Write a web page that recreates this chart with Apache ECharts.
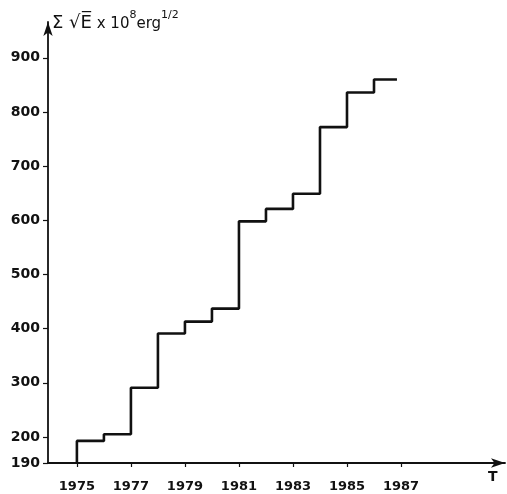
<!DOCTYPE html>
<html><head><meta charset="utf-8">
<script src="https://cdn.jsdelivr.net/npm/echarts@6/dist/echarts.min.js"></script>
<style>html,body{margin:0;padding:0;background:#fff}#c{width:507px;height:494px}</style>
</head><body><div id="c"></div>
<script>
// Data
const years = [1975, 1976, 1977, 1978, 1979, 1980, 1981, 1982, 1983, 1984, 1985, 1986];
const values = [198.5, 205, 291, 391, 413, 437, 598, 621, 649, 772, 836, 860];
const startValue = 190;      // curve starts from the axis origin at 1975
const endYear = 1986.85;     // last step ends just before 1987
const xTickLabels = [1975, 1977, 1979, 1981, 1983, 1985, 1987];
const yTickLabels = [190, 200, 300, 400, 500, 600, 700, 800, 900];

// The original axis is broken between 190 and 200 (that gap is stretched)
const STRETCH = 4.8;
function fwd(v) { return v >= 200 ? v : 200 - (200 - v) * STRETCH; }
function inv(u) { return u >= 200 ? u : 200 - (200 - u) / STRETCH; }

const lineData = [[years[0], fwd(startValue)]];
years.forEach((y, i) => lineData.push([y, fwd(values[i])]));
lineData.push([endYear, fwd(values[values.length - 1])]);

const ink = '#111';
const font = 'DejaVu Sans';

const chart = echarts.init(document.getElementById('c'), null, {renderer: 'canvas'});
chart.setOption({
  backgroundColor: '#fff',
  animation: false,
  grid: {left: 48, right: 2, top: 22, bottom: 31, containLabel: false},
  xAxis: {
    type: 'value', min: 1973.93, max: 1990.85,
    splitLine: {show: false},
    axisLine: {onZero: false, lineStyle: {color: ink, width: 1.8}, symbol: ['none', 'arrow'], symbolSize: [7, 14]},
    axisTick: {show: true, length: 4, lineStyle: {color: ink, width: 1.2}, customValues: xTickLabels},
    axisLabel: {customValues: xTickLabels, margin: 17, color: ink, fontFamily: font, fontWeight: 'bold', fontSize: 13,
      formatter: v => String(Math.round(v))}
  },
  yAxis: {
    type: 'value', min: fwd(190), max: 966,
    splitLine: {show: false},
    axisLine: {onZero: false, lineStyle: {color: ink, width: 1.8}, symbol: ['none', 'arrow'], symbolSize: [7, 14]},
    axisTick: {show: true, length: 5, lineStyle: {color: ink, width: 1.2}, customValues: yTickLabels.map(fwd)},
    axisLabel: {customValues: yTickLabels.map(fwd), margin: 8, color: ink, fontFamily: font, fontWeight: 'bold', fontSize: 14,
      formatter: v => String(Math.round(inv(v)))}
  },
  graphic: [
    {type: 'text', left: 52, top: 10, style: {
      text: '{b|Σ √E̅}{a| x 10}{s|8}{a|erg}{s|1/2}',
      rich: {
        b: {fontFamily: font, fontSize: 18, fill: ink, lineHeight: 22, verticalAlign: 'bottom'},
        a: {fontFamily: font, fontSize: 15, fill: ink, lineHeight: 22, verticalAlign: 'bottom'},
        s: {fontFamily: font, fontSize: 11, fill: ink, lineHeight: 22, verticalAlign: 'top'}
      }
    }},
    {type: 'text', left: 488, top: 470, style: {text: 'T', fontFamily: font, fontSize: 14, fontWeight: 'bold', fill: ink}}
  ],
  series: [{
    type: 'line', step: 'end', data: lineData, showSymbol: false, symbol: 'none',
    lineStyle: {color: ink, width: 2.6}, clip: false
  }]
});
</script></body></html>
